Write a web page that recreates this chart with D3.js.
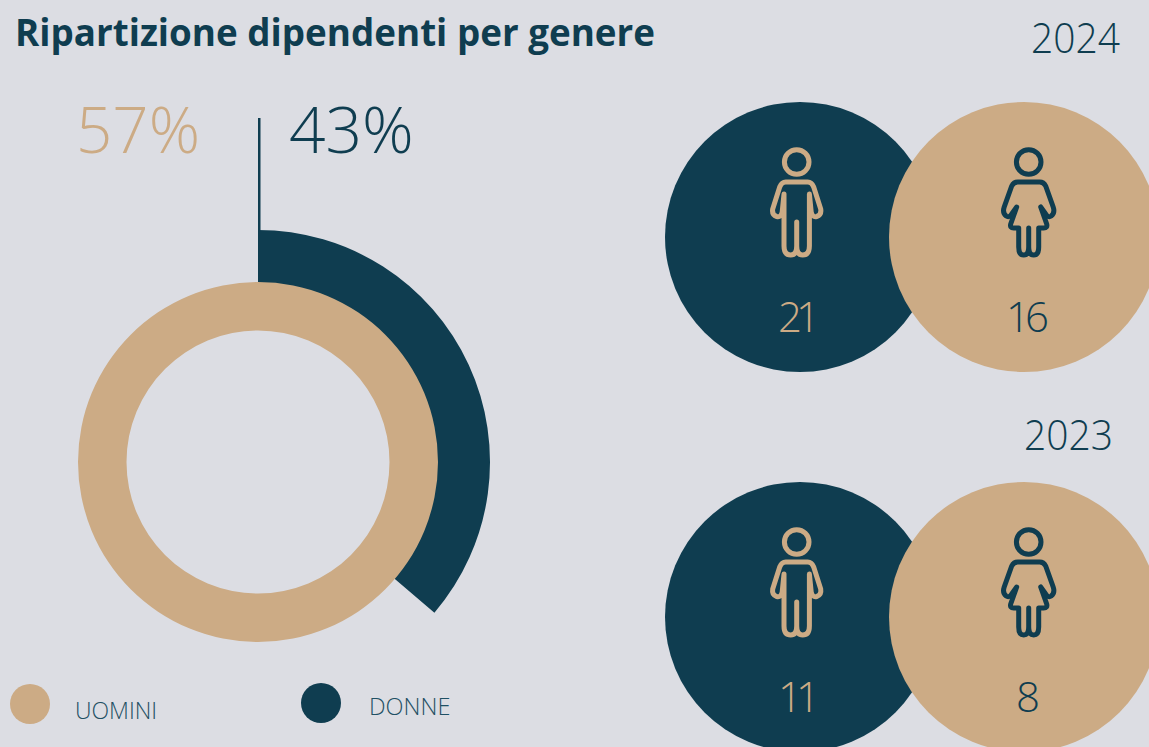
<!DOCTYPE html>
<html><head><meta charset="utf-8">
<script src="https://cdn.jsdelivr.net/npm/d3@7"></script>
<style>html,body{margin:0;padding:0;background:#dcdde3}svg{display:block}text{font-family:"Open Sans",sans-serif}</style>
</head><body><svg id="c" width="1149" height="747"></svg>
<script>
const titleText = "Ripartizione dipendenti per genere";
const genders = ["UOMINI", "DONNE"];
const sharesPct = [57, 43];
const darkArcSweepShare = [0.3625];
const years = ["2024", "2023"];
const menCounts = [21, 11];
const womenCounts = [16, 8];

const DARK = "#0f3d50", TAN = "#ccab85";
const svg = d3.select("#c");

svg.append("text").attr("x",15).attr("y",46).attr("font-size",38).attr("font-weight",700).attr("fill",DARK)
 .attr("textLength",640).attr("lengthAdjust","spacingAndGlyphs").text(titleText);

// ring
const cx=258, cy=462;
const angle = d3.scaleLinear().domain([0,1]).range([0,2*Math.PI]);
const g = svg.append("g").attr("transform",`translate(${cx},${cy})`);
g.append("path").attr("fill",DARK)
 .attr("d",d3.arc().innerRadius(175).outerRadius(232).startAngle(angle(0)).endAngle(angle(darkArcSweepShare[0]))());
g.append("path").attr("fill",TAN)
 .attr("d",d3.arc().innerRadius(131.5).outerRadius(180).startAngle(0).endAngle(2*Math.PI)());
svg.append("rect").attr("x",258).attr("y",118).attr("width",2.5).attr("height",114).attr("fill",DARK);

svg.append("text").attr("x",76).attr("y",153).attr("font-size",64).attr("font-weight",300).attr("fill",TAN)
 .attr("textLength",124).attr("lengthAdjust","spacingAndGlyphs").text(sharesPct[0]+"%");
svg.append("text").attr("x",289).attr("y",153).attr("font-size",64).attr("font-weight",300).attr("fill",DARK).text(sharesPct[1]+"%");

// legend
const legend=[{x:30,y:704,tx:75,ty:719,c:TAN,fs:23},{x:321,y:703,tx:369,ty:715,c:DARK,fs:23.5}];
legend.forEach((l,i)=>{
 svg.append("circle").attr("cx",l.x).attr("cy",l.y).attr("r",20).attr("fill",l.c);
 svg.append("text").attr("x",l.tx).attr("y",l.ty).attr("font-size",l.fs).attr("font-weight",300).attr("fill","#1f5064").text(genders[i]);
});

// icons (coordinates relative to the head centre)
const manPath="M-11 20 H11 Q15 20 17 25 L24 47 Q25 53 20 54.5 Q15.5 55.5 14.5 50 L12.7 32 V84 Q12.7 93 6 93 Q0 93 0 84 V60 V84 Q0 93 -6 93 Q-12.7 93 -12.7 84 V32 L-14.5 50 Q-15.5 55.5 -20 54.5 Q-25 53 -24 47 L-17 25 Q-15 20 -11 20 Z";
const womanPath="M-11 20 H11 Q15 20 17 24 L24.5 45 Q26.5 51 22.5 54 Q19.5 56 17 52 L12 45 L18 62 Q19 66 15 66 H10 V85 Q10 93 5 93 Q0 93 0 85 V66 V85 Q0 93 -5 93 Q-10 93 -10 85 V66 H-15 Q-19 66 -18 62 L-12 45 L-17 52 Q-19.5 56 -22.5 54 Q-26.5 51 -24.5 45 L-17 24 Q-15 20 -11 20 Z";
function icon(x,y,path,col){
 const i=svg.append("g").attr("transform",`translate(${x},${y})`).attr("fill","none").attr("stroke",col).attr("stroke-width",5).attr("stroke-linejoin","round");
 i.append("circle").attr("r",12.3);
 i.append("path").attr("d",path);
}
const yearY = d3.scaleOrdinal().domain(years).range([237,617]);
const yearLabel = [{x:1120,y:53},{x:1113,y:450}];
years.forEach((yr,k)=>{
 const y=yearY(yr);
 svg.append("text").attr("x",yearLabel[k].x-89).attr("y",yearLabel[k].y).attr("font-size",42).attr("font-weight",300).attr("fill",DARK)
  .attr("textLength",89).attr("lengthAdjust","spacingAndGlyphs").text(yr);
 svg.append("circle").attr("cx",800).attr("cy",y).attr("r",135).attr("fill",DARK);
 svg.append("circle").attr("cx",1024).attr("cy",y).attr("r",135).attr("fill",TAN);
 icon(796.7,y-75,manPath,TAN);
 icon(1028.7,y-75,womanPath,DARK);
 svg.append("text").attr("x",796).attr("y",y+95).attr("text-anchor","middle").attr("font-size",42).attr("font-weight",300).attr("letter-spacing",-6).attr("fill",TAN).text(menCounts[k]);
 svg.append("text").attr("x",1028-(womenCounts[k]>9?3:0)).attr("y",y+95).attr("text-anchor","middle").attr("font-size",42).attr("font-weight",300).attr("letter-spacing",womenCounts[k]>9?-5:0).attr("fill",DARK).text(womenCounts[k]);
});
</script></body></html>
